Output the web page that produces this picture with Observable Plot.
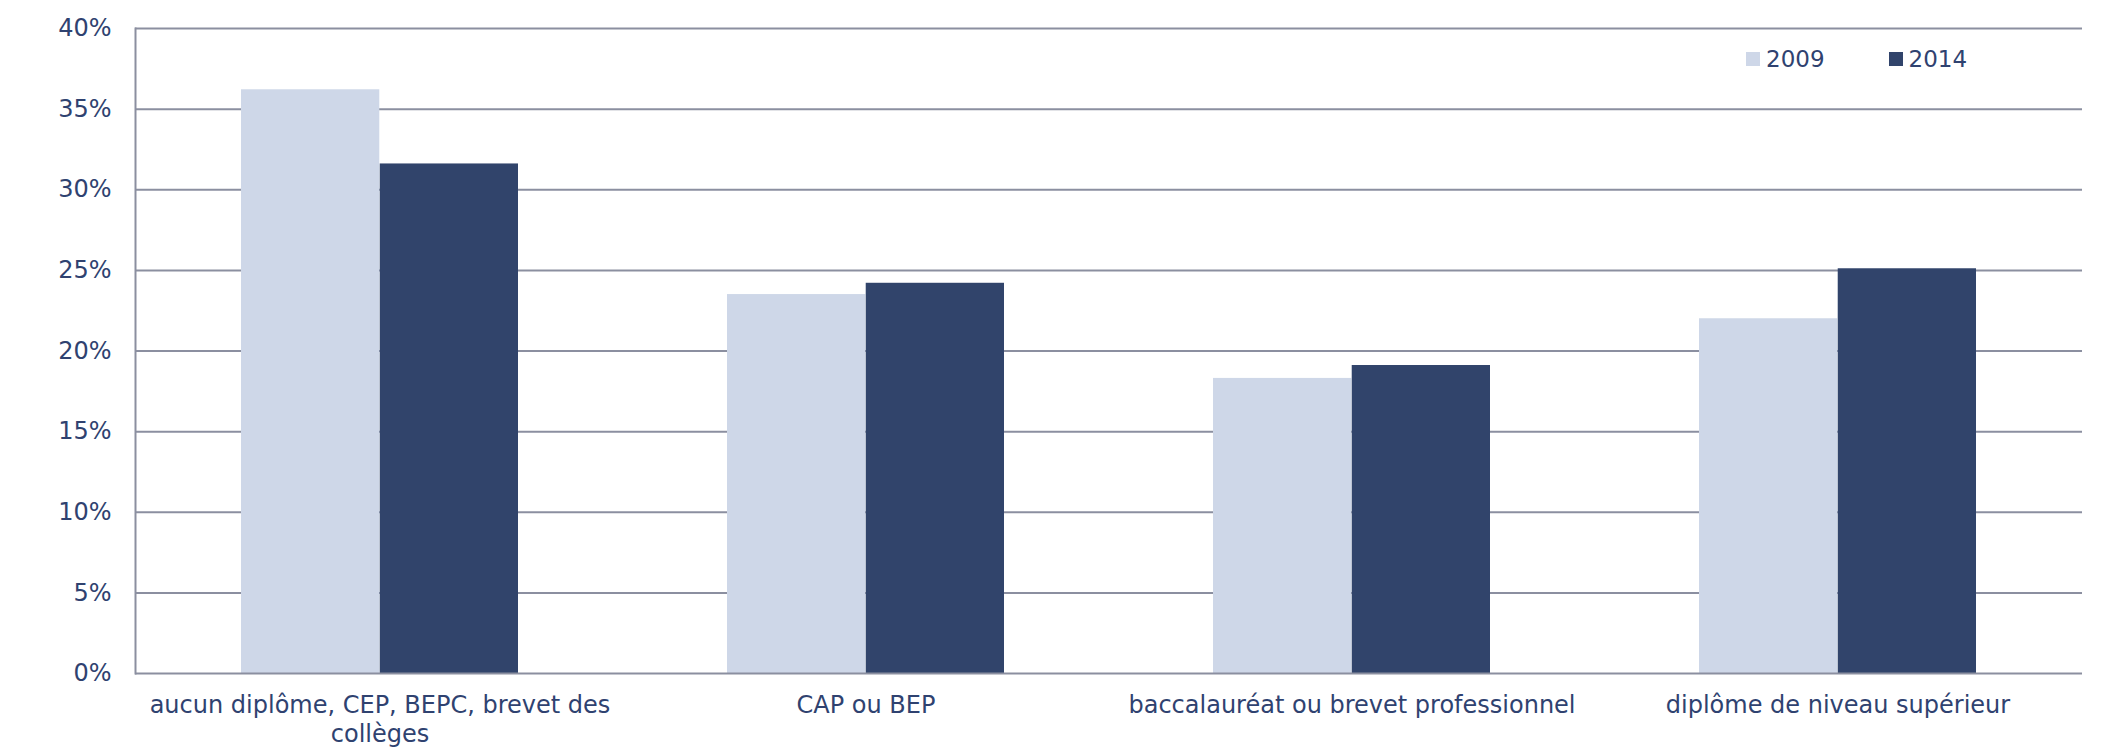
<!DOCTYPE html>
<html>
<head>
<meta charset="utf-8">
<script src="https://cdn.jsdelivr.net/npm/d3@7"></script>
<script src="https://cdn.jsdelivr.net/npm/@observablehq/plot@0.6"></script>
<style>
  html, body { margin: 0; padding: 0; background: #ffffff; }
  #wrap { position: relative; width: 2105px; height: 748px; overflow: hidden; }
  #legend { position: absolute; top: 46px; left: 1746px; display: flex; font-family: "DejaVu Sans", Verdana, sans-serif; font-size: 23px; color: #2f4270; }
  .item { display: flex; align-items: center; margin-right: 64px; }
  .sw { width: 14px; height: 14px; margin-right: 6px; }
</style>
</head>
<body>
<div id="wrap"><div id="legend"></div></div>
<script>
const categories = [
  "aucun diplôme, CEP, BEPC, brevet des collèges",
  "CAP ou BEP",
  "baccalauréat ou brevet professionnel",
  "diplôme de niveau supérieur"
];
const tickLabels = [
  "aucun diplôme, CEP, BEPC, brevet des\ncollèges",
  "CAP ou BEP",
  "baccalauréat ou brevet professionnel",
  "diplôme de niveau supérieur"
];
const years = ["2009", "2014"];
const values2009 = [36.2, 23.5, 18.3, 22.0];
const values2014 = [31.6, 24.2, 19.1, 25.1];
const yTicks = [0, 5, 10, 15, 20, 25, 30, 35, 40];
const colors = ["#ced7e8", "#31446b"];

const data = [];
categories.forEach((c, i) => {
  data.push({category: c, year: years[0], value: values2009[i]});
  data.push({category: c, year: years[1], value: values2014[i]});
});

const W = 2105, H = 748;
const mL = 135, mR = 23, mT = 28, mB = 75;
const pInner = 0.43, pOuter = pInner / 2;
const step = (W - mL - mR) / (categories.length - pInner + 2 * pOuter);
const bw = step * (1 - pInner);
const half = bw / 2;

const textColor = "#2f4270";
const gridColor = "#8b8fa0";

const chart = Plot.plot({
  width: W,
  height: H,
  marginLeft: mL,
  marginRight: mR,
  marginTop: mT,
  marginBottom: mB,
  style: {fontFamily: "'DejaVu Sans', Verdana, sans-serif", fontSize: "24px", color: textColor, background: "#ffffff"},
  x: {domain: categories, paddingInner: pInner, paddingOuter: pOuter, label: null},
  y: {domain: [0, 40], label: null},
  marks: [
    Plot.ruleY(yTicks.filter(t => t > 0), {stroke: gridColor, strokeWidth: 2}),
    Plot.barY(data.filter(d => d.year === years[0]), {x: "category", y: "value", fill: colors[0], insetRight: half}),
    Plot.barY(data.filter(d => d.year === years[1]), {x: "category", y: "value", fill: colors[1], insetLeft: half}),
    Plot.ruleY([0], {stroke: gridColor, strokeWidth: 2}),
    Plot.frame({anchor: "left", stroke: gridColor, strokeWidth: 2}),
    Plot.axisY({ticks: yTicks, tickSize: 0, tickPadding: 24, tickFormat: d => d + "%", fontSize: 24, fill: textColor, label: null}),
    Plot.axisX({tickSize: 0, tickPadding: 19, tickFormat: d => tickLabels[categories.indexOf(d)], fontSize: 24, lineHeight: 1.2, fill: textColor, label: null})
  ]
});
document.getElementById("wrap").prepend(chart);

const legend = document.getElementById("legend");
years.forEach((y, i) => {
  const it = document.createElement("div");
  it.className = "item";
  const sw = document.createElement("div");
  sw.className = "sw";
  sw.style.background = colors[i];
  const t = document.createElement("span");
  t.textContent = y;
  it.appendChild(sw);
  it.appendChild(t);
  legend.appendChild(it);
});
</script>
</body>
</html>
